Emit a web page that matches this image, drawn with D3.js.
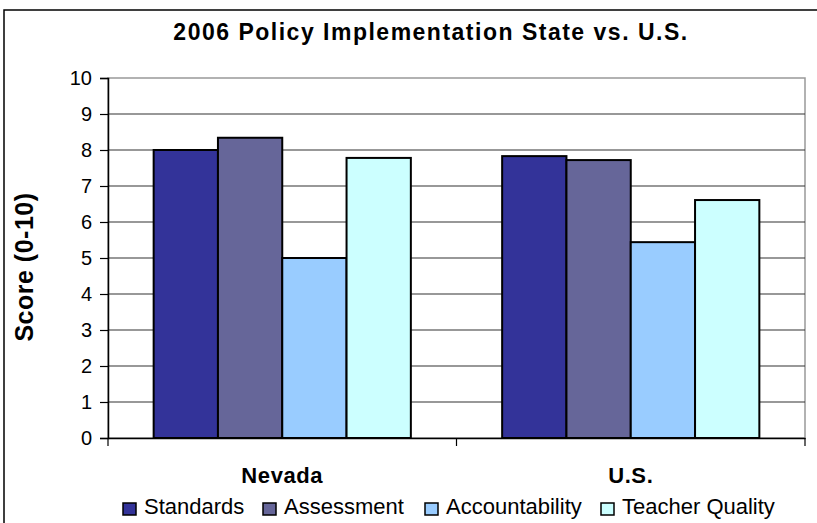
<!DOCTYPE html>
<html>
<head>
<meta charset="utf-8">
<script src="https://cdn.jsdelivr.net/npm/d3@7"></script>
<style>
  body { margin: 0; background: #fff; }
  svg { display: block; font-family: "Liberation Sans", Arial, sans-serif; }
</style>
</head>
<body>
<svg id="chart"></svg>
<script>
// chart data
var groups = ["Nevada", "U.S."];
var seriesNames = ["Standards", "Assessment", "Accountability", "Teacher Quality"];
var nevadaScores = [8.0, 8.34, 5.0, 7.78];
var usScores = [7.83, 7.72, 5.44, 6.61];
var yTicks = [0, 1, 2, 3, 4, 5, 6, 7, 8, 9, 10];
var seriesColors = ["#333399", "#666699", "#99ccff", "#ccffff"];

var width = 817, height = 523;
var plot = { left: 108, top: 78, right: 805, bottom: 438 };

var svg = d3.select('#chart')
    .attr('width', width)
    .attr('height', height);

// outer frame (runs off the right and bottom edge like the original)
svg.append('rect')
    .attr('x', 4).attr('y', 10)
    .attr('width', 860).attr('height', 540)
    .attr('fill', '#fff')
    .attr('stroke', '#000')
    .attr('stroke-width', 1.5);

var xScale = d3.scaleBand().domain(groups).range([plot.left, plot.right]);
var xInner = d3.scaleBand().domain(seriesNames)
    .range([0, xScale.bandwidth()]).paddingOuter(0.71);
var yScale = d3.scaleLinear().domain([0, 10]).range([plot.bottom, plot.top]);

// plot area border
svg.append('rect')
    .attr('x', plot.left).attr('y', plot.top)
    .attr('width', plot.right - plot.left).attr('height', plot.bottom - plot.top)
    .attr('fill', 'none')
    .attr('stroke', '#999')
    .attr('stroke-width', 1.5);

// gridlines
svg.append('g')
    .selectAll('line')
    .data(yTicks.filter(function(t) { return t > 0 && t < 10; }))
    .enter().append('line')
    .attr('x1', plot.left).attr('x2', plot.right)
    .attr('y1', function(d) { return yScale(d); })
    .attr('y2', function(d) { return yScale(d); })
    .attr('stroke', '#333')
    .attr('stroke-width', 1.2);

// bars
var rows = groups.map(function(g, i) {
    var vals = i === 0 ? nevadaScores : usScores;
    return seriesNames.map(function(s, j) {
        return { group: g, series: s, value: vals[j], color: seriesColors[j] };
    });
});

svg.append('g')
    .selectAll('g')
    .data(rows)
    .enter().append('g')
    .attr('transform', function(d) { return 'translate(' + xScale(d[0].group) + ',0)'; })
    .selectAll('rect')
    .data(function(d) { return d; })
    .enter().append('rect')
    .attr('x', function(d) { return xInner(d.series); })
    .attr('y', function(d) { return yScale(d.value); })
    .attr('width', xInner.bandwidth())
    .attr('height', function(d) { return plot.bottom - yScale(d.value); })
    .attr('fill', function(d) { return d.color; })
    .attr('stroke', '#000')
    .attr('stroke-width', 2);

// y axis
var yAxis = d3.axisLeft(yScale).tickValues(yTicks).tickSize(8).tickPadding(8);
var gy = svg.append('g')
    .attr('transform', 'translate(' + plot.left + ',0)')
    .call(yAxis);
gy.select('.domain').attr('stroke', '#000').attr('stroke-width', 1.5);
gy.selectAll('.tick line').attr('stroke', '#000').attr('stroke-width', 1.2);
gy.selectAll('.tick text')
    .style('font-family', '"Liberation Sans", Arial, sans-serif')
    .style('font-size', '20px')
    .attr('fill', '#000');

// x axis
var xAxis = d3.axisBottom(xScale).tickSize(0).tickPadding(29);
var gx = svg.append('g')
    .attr('transform', 'translate(0,' + plot.bottom + ')')
    .call(xAxis);
gx.select('.domain').attr('stroke', '#000').attr('stroke-width', 1.5);
gx.selectAll('.tick text')
    .style('font-family', '"Liberation Sans", Arial, sans-serif')
    .style('font-size', '22px')
    .style('font-weight', 'bold')
    .style('letter-spacing', '0.6px')
    .attr('fill', '#000');

// category separator ticks below the axis
svg.append('g')
    .selectAll('line')
    .data([plot.left, xScale(groups[1]), plot.right])
    .enter().append('line')
    .attr('x1', function(d) { return d; }).attr('x2', function(d) { return d; })
    .attr('y1', plot.bottom).attr('y2', plot.bottom + 8)
    .attr('stroke', '#000')
    .attr('stroke-width', 1.2);

// title
svg.append('text')
    .attr('x', 431).attr('y', 40)
    .attr('text-anchor', 'middle')
    .style('font-size', '23px')
    .style('font-weight', 'bold')
    .style('letter-spacing', '1.5px')
    .text('2006 Policy Implementation State vs. U.S.');

// y label
svg.append('text')
    .attr('transform', 'translate(33,267) rotate(-90)')
    .attr('text-anchor', 'middle')
    .style('font-size', '25px')
    .style('font-weight', 'bold')
    .style('letter-spacing', '0.5px')
    .text('Score (0-10)');

// legend
var legendX = [123, 263, 425, 601];
var legend = svg.append('g')
    .selectAll('g')
    .data(seriesNames)
    .enter().append('g')
    .attr('transform', function(d, i) { return 'translate(' + legendX[i] + ',503)'; });

legend.append('rect')
    .attr('width', 13).attr('height', 12)
    .attr('fill', function(d, i) { return seriesColors[i]; })
    .attr('stroke', '#000')
    .attr('stroke-width', 1.5);

legend.append('text')
    .attr('x', 21).attr('y', 11)
    .style('font-size', '22px')
    .text(function(d) { return d; });
</script>
</body>
</html>
